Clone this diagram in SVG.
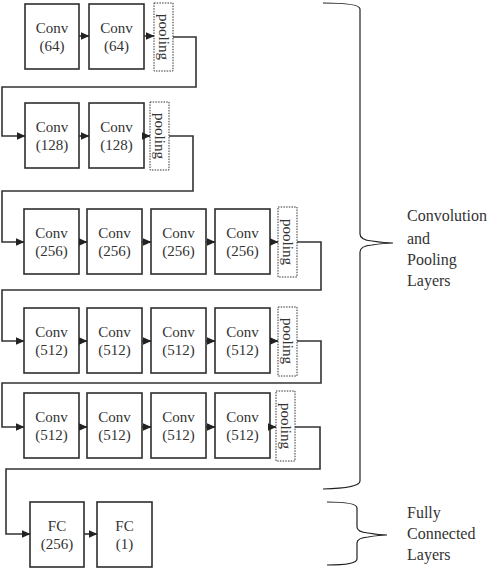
<svg xmlns="http://www.w3.org/2000/svg" width="494" height="568" viewBox="0 0 494 568">
<defs>
<style>
.box{fill:#fff;stroke:#2e2e2e;stroke-width:1.6}
.pool{fill:#fff;stroke:#333;stroke-width:1;stroke-dasharray:1.5 1.2}
.t{font-family:"Liberation Serif","Times New Roman",serif;font-size:15px;fill:#333;text-anchor:middle}
.lab{font-family:"Liberation Serif","Times New Roman",serif;font-size:16px;fill:#333}
.c{fill:none;stroke:#333;stroke-width:1.6}
.br{fill:none;stroke:#222;stroke-width:1.2}
</style>
<marker id="ah" markerUnits="userSpaceOnUse" markerWidth="9" markerHeight="8" refX="8.5" refY="4" orient="auto">
<path d="M0,0 L9,4 L0,8 z" fill="#222"/>
</marker>
</defs>

<g id="row1">
<g id="n_conv64a"><rect class="box" x="25" y="4" width="54" height="65"/><text class="t" x="52" y="33">Conv</text><text class="t" x="52" y="51">(64)</text></g>
<g id="n_conv64b"><rect class="box" x="89" y="4" width="55" height="65"/><text class="t" x="116.5" y="33">Conv</text><text class="t" x="116.5" y="51">(64)</text></g>
<g id="n_pool1"><rect class="pool" x="154" y="3" width="19" height="68"/><text class="t" transform="translate(163.5,37) rotate(90)" y="5">pooling</text></g>
</g>

<g id="row2">
<g id="n_conv128a"><rect class="box" x="25" y="103" width="54" height="65"/><text class="t" x="52" y="132">Conv</text><text class="t" x="52" y="150">(128)</text></g>
<g id="n_conv128b"><rect class="box" x="89" y="103" width="55" height="65"/><text class="t" x="116.5" y="132">Conv</text><text class="t" x="116.5" y="150">(128)</text></g>
<g id="n_pool2"><rect class="pool" x="150" y="102" width="19" height="68"/><text class="t" transform="translate(159.5,136) rotate(90)" y="5">pooling</text></g>
</g>

<g id="row3">
<g id="n_conv256a"><rect class="box" x="24" y="209" width="55" height="65"/><text class="t" x="51.5" y="238">Conv</text><text class="t" x="51.5" y="256">(256)</text></g>
<g id="n_conv256b"><rect class="box" x="87" y="209" width="55" height="65"/><text class="t" x="114.5" y="238">Conv</text><text class="t" x="114.5" y="256">(256)</text></g>
<g id="n_conv256c"><rect class="box" x="151" y="209" width="55" height="65"/><text class="t" x="178.5" y="238">Conv</text><text class="t" x="178.5" y="256">(256)</text></g>
<g id="n_conv256d"><rect class="box" x="215" y="209" width="55" height="65"/><text class="t" x="242.5" y="238">Conv</text><text class="t" x="242.5" y="256">(256)</text></g>
<g id="n_pool3"><rect class="pool" x="278" y="207" width="19" height="70"/><text class="t" transform="translate(287.5,242) rotate(90)" y="5">pooling</text></g>
</g>

<g id="row4">
<g id="n_conv512a"><rect class="box" x="24" y="308" width="55" height="65"/><text class="t" x="51.5" y="337">Conv</text><text class="t" x="51.5" y="355">(512)</text></g>
<g id="n_conv512b"><rect class="box" x="87" y="308" width="55" height="65"/><text class="t" x="114.5" y="337">Conv</text><text class="t" x="114.5" y="355">(512)</text></g>
<g id="n_conv512c"><rect class="box" x="151" y="308" width="55" height="65"/><text class="t" x="178.5" y="337">Conv</text><text class="t" x="178.5" y="355">(512)</text></g>
<g id="n_conv512d"><rect class="box" x="215" y="308" width="55" height="65"/><text class="t" x="242.5" y="337">Conv</text><text class="t" x="242.5" y="355">(512)</text></g>
<g id="n_pool4"><rect class="pool" x="278" y="307" width="19" height="69"/><text class="t" transform="translate(287.5,341) rotate(90)" y="5">pooling</text></g>
</g>

<g id="row5">
<g id="n_conv512e"><rect class="box" x="24" y="393" width="55" height="65"/><text class="t" x="51.5" y="422">Conv</text><text class="t" x="51.5" y="440">(512)</text></g>
<g id="n_conv512f"><rect class="box" x="87" y="393" width="55" height="65"/><text class="t" x="114.5" y="422">Conv</text><text class="t" x="114.5" y="440">(512)</text></g>
<g id="n_conv512g"><rect class="box" x="151" y="393" width="55" height="65"/><text class="t" x="178.5" y="422">Conv</text><text class="t" x="178.5" y="440">(512)</text></g>
<g id="n_conv512h"><rect class="box" x="215" y="393" width="55" height="65"/><text class="t" x="242.5" y="422">Conv</text><text class="t" x="242.5" y="440">(512)</text></g>
<g id="n_pool5"><rect class="pool" x="276" y="391" width="19" height="70"/><text class="t" transform="translate(285.5,426) rotate(90)" y="5">pooling</text></g>
</g>

<g id="row6">
<g id="n_fc256"><rect class="box" x="30" y="502" width="54" height="65"/><text class="t" x="57" y="531">FC</text><text class="t" x="57" y="549">(256)</text></g>
<g id="n_fc1"><rect class="box" x="97" y="502" width="55" height="65"/><text class="t" x="124.5" y="531">FC</text><text class="t" x="124.5" y="549">(1)</text></g>
</g>

<g id="connectors">
<path class="c" d="M79,36 H89" marker-end="url(#ah)"/>
<path class="c" d="M144,36 H154" marker-end="url(#ah)"/>
<path class="c" d="M173,37 H196 V87 H2 V136 H25" marker-end="url(#ah)"/>
<path class="c" d="M79,136 H89" marker-end="url(#ah)"/>
<path class="c" d="M144,136 H150" marker-end="url(#ah)"/>
<path class="c" d="M169,136 H193 V191 H2 V242 H24" marker-end="url(#ah)"/>
<path class="c" d="M79,242 H87" marker-end="url(#ah)"/>
<path class="c" d="M142,242 H151" marker-end="url(#ah)"/>
<path class="c" d="M206,242 H215" marker-end="url(#ah)"/>
<path class="c" d="M270,242 H278" marker-end="url(#ah)"/>
<path class="c" d="M297,242 H321 V290 H2 V341 H24" marker-end="url(#ah)"/>
<path class="c" d="M79,341 H87" marker-end="url(#ah)"/>
<path class="c" d="M142,341 H151" marker-end="url(#ah)"/>
<path class="c" d="M206,341 H215" marker-end="url(#ah)"/>
<path class="c" d="M270,341 H278" marker-end="url(#ah)"/>
<path class="c" d="M297,341 H321 V383 H2 V427 H24" marker-end="url(#ah)"/>
<path class="c" d="M79,427 H87" marker-end="url(#ah)"/>
<path class="c" d="M142,427 H151" marker-end="url(#ah)"/>
<path class="c" d="M206,427 H215" marker-end="url(#ah)"/>
<path class="c" d="M270,427 H276" marker-end="url(#ah)"/>
<path class="c" d="M295,427 H320 V469 H6 V534 H30" marker-end="url(#ah)"/>
<path class="c" d="M84,534 H97" marker-end="url(#ah)"/>
</g>

<g id="brace_conv">
<path class="br" d="M323,3 Q360,3 360,9 V234 Q360,240 372,241 Q385,243 393,243 Q385,243 372,245 Q360,246 360,252 V481 Q360,488 323,489"/>
<text class="lab" x="407" y="221">Convolution</text>
<text class="lab" x="407" y="244">and</text>
<text class="lab" x="407" y="265">Pooling</text>
<text class="lab" x="407" y="286">Layers</text>
</g>

<g id="brace_fc">
<path class="br" d="M327,502 Q357,502 357,508 V527 Q357,532 368,533 Q380,535 387,535 Q380,535 368,537 Q357,538 357,543 V559 Q357,565 327,565"/>
<text class="lab" x="407" y="518">Fully</text>
<text class="lab" x="407" y="539">Connected</text>
<text class="lab" x="407" y="560">Layers</text>
</g>
</svg>
